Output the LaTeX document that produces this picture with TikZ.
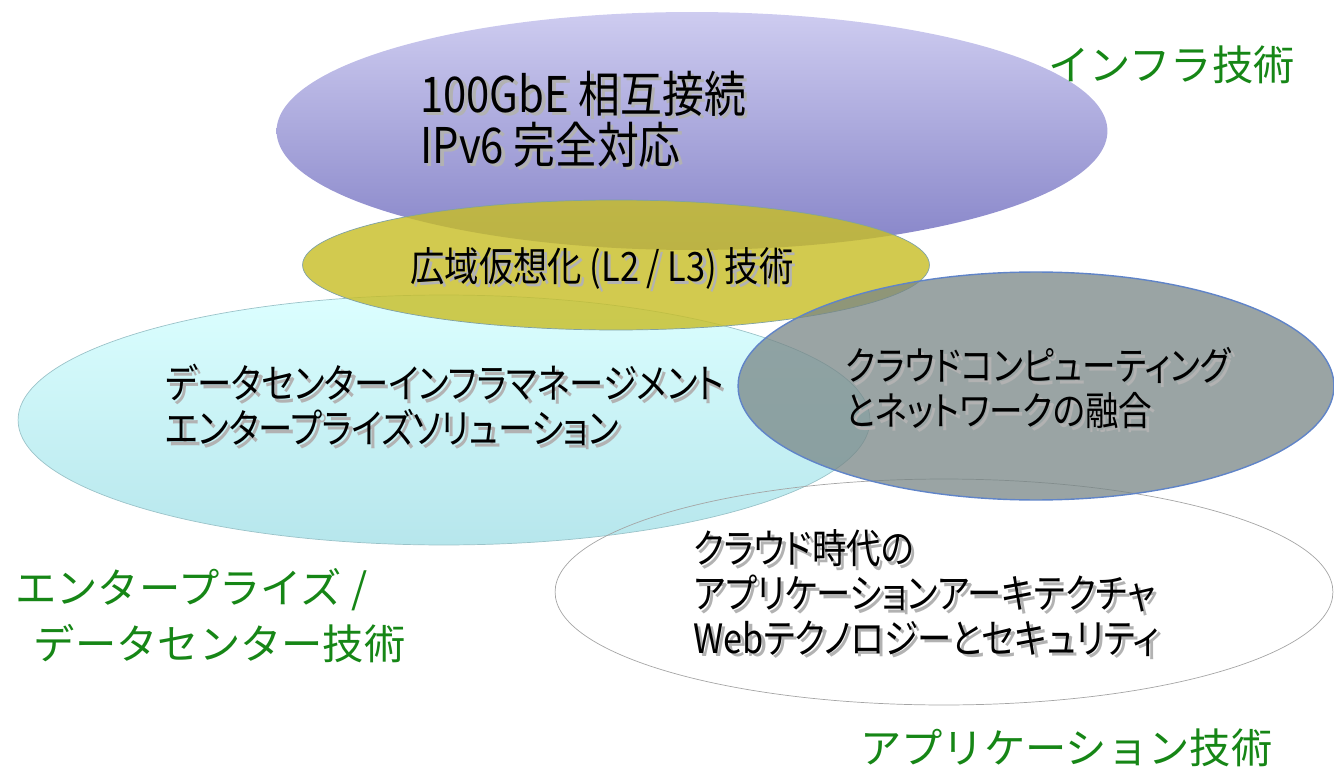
\documentclass[tikz,border=0pt]{standalone}
\usepackage{fontspec}
\usepackage{tikz}
\usetikzlibrary{shapes.geometric, positioning}
\newfontfamily\jpfont[RawFeature=+palt, FakeStretch=0.85]{Noto Sans CJK JP}
\newfontfamily\jplabel{Noto Sans CJK JP}
\definecolor{infratop}{RGB}{206,204,240}
\definecolor{infrabot}{RGB}{134,132,200}
\definecolor{wanfill}{RGB}{200,190,40}
\definecolor{dctop}{RGB}{220,255,255}
\definecolor{dcbot}{RGB}{182,230,236}
\definecolor{cloudfill}{RGB}{120,134,134}
\definecolor{cloudline}{RGB}{96,132,200}
\definecolor{appline}{RGB}{165,165,165}
\definecolor{areagreen}{RGB}{22,134,22}
\newcommand{\shd}[1]{\rlap{\hspace{2pt}\raisebox{-2pt}{\color{black!30}#1}}#1}
\tikzset{
x=0.02cm, y=-0.02cm, % one unit is one pixel of the layout
area/.style={ellipse, inner sep=0pt}, % every topic area is an ellipse
topic/.style 2 args={anchor=west, align=left, inner sep=0pt, text=black, font={\jpfont\fontsize{#1}{#2}\selectfont}}, % text inside an area
heading/.style={anchor=west, align=left, inner sep=0pt, text=areagreen, font={\jplabel\fontsize{23.5pt}{32pt}\selectfont}}, % green area names
}

\begin{document}
\begin{tikzpicture}
        \useasboundingbox (0,0) rectangle (1334,773);

        % areas, back to front
        \node[area, top color=infratop, bottom color=infrabot, minimum width=16.62cm, minimum height=4.76cm] (infra) at (692,131) {};
        \node[area, top color=dctop, bottom color=dcbot, draw=dcbot!85!black, minimum width=17.04cm, minimum height=5cm] (dc) at (444,420) {};
        \node[area, fill=wanfill, fill opacity=0.82, draw=dcbot!70!black, minimum width=12.54cm, minimum height=2.6cm] (wan) at (616,265) {};
        \node[area, draw=appline, minimum width=15.56cm, minimum height=4.52cm] (app) at (944,592) {};
        \node[area, fill=cloudfill, fill opacity=0.75, draw=cloudline, thick, minimum width=11.92cm, minimum height=4.56cm] (cloud) at (1036,386) {};

        % topics
        \node[topic={28pt}{29pt}] (infratext) at (420,121) {\shd{100GbE 相互接続}\\\shd{IPv6 完全対応}};
        \node[topic={23pt}{26pt}] (wantext) at (410,270) {\shd{広域仮想化 (L2 / L3) 技術}};
        \node[topic={23pt}{25.5pt}] (dctext) at (165,407) {\shd{データセンターインフラマネージメント}\\\shd{エンタープライズソリューション}};
        \node[topic={22.5pt}{25.5pt}] (cloudtext) at (845,390) {\shd{クラウドコンピューティング}\\\shd{とネットワークの融合}};
        \node[topic={23pt}{25.5pt}] (apptext) at (693,595) {\shd{クラウド時代の}\\\shd{アプリケーションアーキテクチャ}\\\shd{Webテクノロジーとセキュリティ}};

        % area names
        \node[heading] (infralabel) at (1048,65) {インフラ技術};
        \node[heading] (dclabel) at (15,616) {エンタープライズ /\\\hspace*{0.45em}データセンター技術};
        \node[heading] (applabel) at (860,748) {アプリケーション技術};
\end{tikzpicture}
\end{document}
